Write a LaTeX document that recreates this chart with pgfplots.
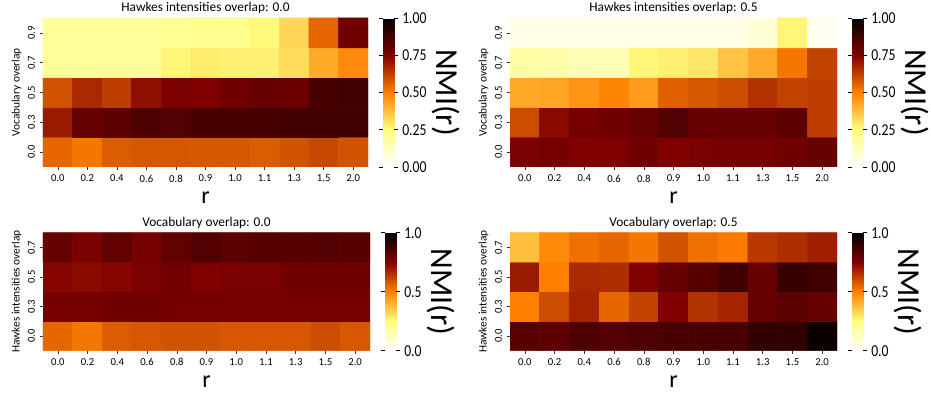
\documentclass[border=0pt]{standalone}
\usepackage{fontspec}
\setmainfont{Carlito}
\usepackage{pgfplots}
\pgfplotsset{compat=1.18}
\pgfplotsset{
 /pgf/number format/assume math mode=true,
 colormap={afmhotr}{rgb255(0cm)=(255,255,255) rgb255(1cm)=(255,255,128) rgb255(2cm)=(255,128,0) rgb255(3cm)=(128,0,0) rgb255(4cm)=(0,0,0)},
 hm/.style={
   scale only axis,
   colormap name=afmhotr,
   point meta min=0, point meta max=1,
   xmin=-0.5, xmax=10.5,
   xtick={0,...,10},
   xticklabels={0.0,0.2,0.4,0.6,0.8,0.9,1.0,1.1,1.3,1.5,2.0},
   tick align=outside,
   major tick length=2.5pt,
   xtick pos=left, ytick pos=left,
   axis line style={draw=none},
   tick style={black!80, line width=0.4pt},
   ticklabel style={font=\fontsize{8}{8}\selectfont},
   yticklabel style={rotate=90, anchor=south},
   xlabel={r},
   xlabel style={font=\fontsize{18}{18}\selectfont, inner sep=1pt, text depth=0pt, yshift=-2.5pt},
   title style={font=\fontsize{10}{11}\selectfont, yshift=-6.5pt},
   ylabel style={font=\fontsize{8.5}{8.5}\selectfont, yshift=-2pt},
   colorbar,
   colorbar style={
     at={(parent axis.north east)}, anchor=north west, xshift=3pt,
     width=8.25pt,
     axis line style={draw=none},
     tick align=outside,
     major tick length=3pt,
     tick style={black, line width=0.5pt},
     yticklabel style={font=\fontsize{12.5}{12.5}\selectfont, xscale=0.82},
     ylabel={NMI(r)},
     ylabel shift=-2pt,
     ylabel style={font=\fontsize{24}{24}\selectfont, rotate=180},
   },
 },
 cb4/.style={colorbar style={ytick={0,0.25,0.5,0.75,1},
     yticklabel style={/pgf/number format/.cd, fixed, fixed zerofill, precision=2}}},
 cb2/.style={colorbar style={ytick={0,0.5,1},
     yticklabel style={/pgf/number format/.cd, fixed, fixed zerofill, precision=1}}},
}
\begin{document}
\begin{tikzpicture}
\useasboundingbox (0,0) rectangle (698.25pt,297pt);
% Top left
\begin{axis}[hm, cb4, at={(32.25pt,171.75pt)}, anchor=south west,
  width=243.75pt, height=111.75pt,
  ymin=-0.5, ymax=4.5, ytick={0,...,4}, yticklabels={0.0,0.3,0.5,0.7,0.9},
  title={Hawkes intensities overlap: 0.0}, ylabel={Vocabulary overlap}]
\addplot[matrix plot*, point meta=explicit, mesh/cols=11] coordinates {
(0,0)[0.55] (1,0)[0.52] (2,0)[0.57] (3,0)[0.58] (4,0)[0.58] (5,0)[0.58] (6,0)[0.58] (7,0)[0.57] (8,0)[0.59] (9,0)[0.61] (10,0)[0.59]
(0,1)[0.70] (1,1)[0.80] (2,1)[0.82] (3,1)[0.85] (4,1)[0.84] (5,1)[0.86] (6,1)[0.86] (7,1)[0.86] (8,1)[0.87] (9,1)[0.87] (10,1)[0.87]
(0,2)[0.59] (1,2)[0.67] (2,2)[0.63] (3,2)[0.72] (4,2)[0.76] (5,2)[0.75] (6,2)[0.78] (7,2)[0.80] (8,2)[0.79] (9,2)[0.86] (10,2)[0.87]
(0,3)[0.20] (1,3)[0.20] (2,3)[0.20] (3,3)[0.20] (4,3)[0.27] (5,3)[0.29] (6,3)[0.28] (7,3)[0.28] (8,3)[0.32] (9,3)[0.42] (10,3)[0.48]
(0,4)[0.20] (1,4)[0.20] (2,4)[0.20] (3,4)[0.20] (4,4)[0.21] (5,4)[0.22] (6,4)[0.22] (7,4)[0.26] (8,4)[0.33] (9,4)[0.55] (10,4)[0.78]
};
\end{axis}
% Top right
\begin{axis}[hm, cb4, at={(382.5pt,171.75pt)}, anchor=south west,
  width=245.25pt, height=111.75pt,
  ymin=-0.5, ymax=4.5, ytick={0,...,4}, yticklabels={0.0,0.3,0.5,0.7,0.9},
  title={Hawkes intensities overlap: 0.5}, ylabel={Vocabulary overlap}]
\addplot[matrix plot*, point meta=explicit, mesh/cols=11] coordinates {
(0,0)[0.76] (1,0)[0.77] (2,0)[0.75] (3,0)[0.75] (4,0)[0.78] (5,0)[0.75] (6,0)[0.76] (7,0)[0.77] (8,0)[0.77] (9,0)[0.78] (10,0)[0.80]
(0,1)[0.60] (1,1)[0.73] (2,1)[0.77] (3,1)[0.78] (4,1)[0.80] (5,1)[0.84] (6,1)[0.80] (7,1)[0.80] (8,1)[0.80] (9,1)[0.82] (10,1)[0.63]
(0,2)[0.42] (1,2)[0.43] (2,2)[0.46] (3,2)[0.49] (4,2)[0.45] (5,2)[0.56] (6,2)[0.58] (7,2)[0.60] (8,2)[0.65] (9,2)[0.62] (10,2)[0.63]
(0,3)[0.18] (1,3)[0.17] (2,3)[0.15] (3,3)[0.15] (4,3)[0.27] (5,3)[0.28] (6,3)[0.30] (7,3)[0.37] (8,3)[0.42] (9,3)[0.52] (10,3)[0.62]
(0,4)[0.05] (1,4)[0.05] (2,4)[0.05] (3,4)[0.05] (4,4)[0.05] (5,4)[0.05] (6,4)[0.05] (7,4)[0.05] (8,4)[0.08] (9,4)[0.27] (10,4)[0.03]
};
\end{axis}
% Bottom left
\begin{axis}[hm, cb2, at={(32.25pt,34pt)}, anchor=south west,
  width=245.25pt, height=88.5pt,
  ymin=-0.5, ymax=3.5, ytick={0,...,3}, yticklabels={0.0,0.3,0.5,0.7},
  title={Vocabulary overlap: 0.0}, ylabel={Hawkes intensities overlap}]
\addplot[matrix plot*, point meta=explicit, mesh/cols=11] coordinates {
(0,0)[0.55] (1,0)[0.52] (2,0)[0.57] (3,0)[0.58] (4,0)[0.59] (5,0)[0.59] (6,0)[0.58] (7,0)[0.58] (8,0)[0.58] (9,0)[0.60] (10,0)[0.58]
(0,1)[0.77] (1,1)[0.77] (2,1)[0.78] (3,1)[0.78] (4,1)[0.77] (5,1)[0.77] (6,1)[0.77] (7,1)[0.77] (8,1)[0.77] (9,1)[0.77] (10,1)[0.77]
(0,2)[0.74] (1,2)[0.73] (2,2)[0.74] (3,2)[0.76] (4,2)[0.78] (5,2)[0.75] (6,2)[0.76] (7,2)[0.76] (8,2)[0.78] (9,2)[0.78] (10,2)[0.78]
(0,3)[0.80] (1,3)[0.76] (2,3)[0.81] (3,3)[0.77] (4,3)[0.81] (5,3)[0.84] (6,3)[0.82] (7,3)[0.83] (8,3)[0.83] (9,3)[0.84] (10,3)[0.83]
};
\end{axis}
% Bottom right
\begin{axis}[hm, cb2, at={(382.5pt,34pt)}, anchor=south west,
  width=245.25pt, height=88.5pt,
  ymin=-0.5, ymax=3.5, ytick={0,...,3}, yticklabels={0.0,0.3,0.5,0.7},
  title={Vocabulary overlap: 0.5}, ylabel={Hawkes intensities overlap}]
\addplot[matrix plot*, point meta=explicit, mesh/cols=11] coordinates {
(0,0)[0.83] (1,0)[0.82] (2,0)[0.85] (3,0)[0.84] (4,0)[0.85] (5,0)[0.86] (6,0)[0.86] (7,0)[0.86] (8,0)[0.90] (9,0)[0.90] (10,0)[0.98]
(0,1)[0.50] (1,1)[0.60] (2,1)[0.68] (3,1)[0.55] (4,1)[0.62] (5,1)[0.75] (6,1)[0.65] (7,1)[0.68] (8,1)[0.80] (9,1)[0.82] (10,1)[0.80]
(0,2)[0.70] (1,2)[0.50] (2,2)[0.67] (3,2)[0.66] (4,2)[0.75] (5,2)[0.80] (6,2)[0.83] (7,2)[0.87] (8,2)[0.80] (9,2)[0.89] (10,2)[0.88]
(0,3)[0.38] (1,3)[0.48] (2,3)[0.53] (3,3)[0.55] (4,3)[0.52] (5,3)[0.59] (6,3)[0.53] (7,3)[0.51] (8,3)[0.64] (9,3)[0.66] (10,3)[0.69]
};
\end{axis}
\end{tikzpicture}
\end{document}
